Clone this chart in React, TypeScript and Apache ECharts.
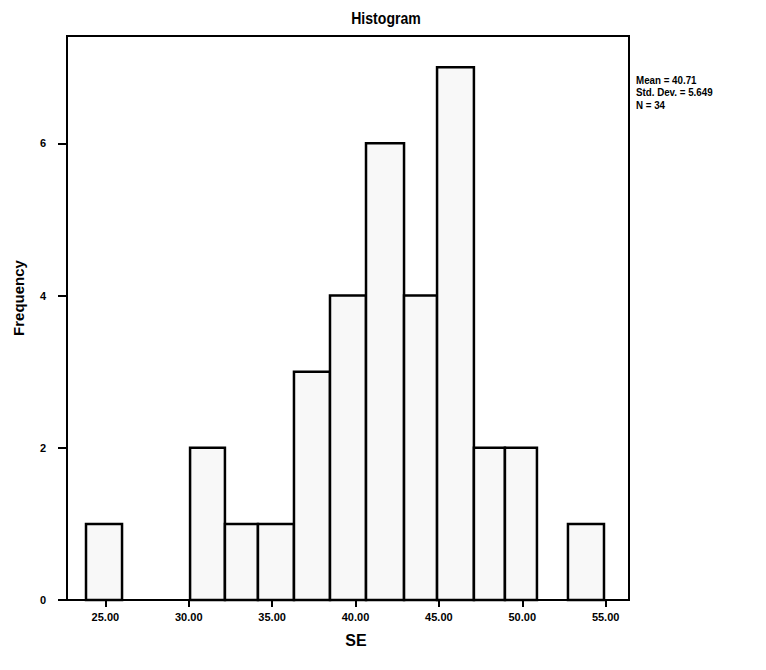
import React, { useEffect, useRef } from "react";
import * as echarts from "echarts";

const binEdges = [23.84, 26.0, 28.04, 30.08, 32.17, 34.15, 36.31, 38.47, 40.63, 42.91, 44.89, 47.1, 48.96, 50.88, 52.74, 54.9];
const counts = [1, 0, 0, 2, 1, 1, 3, 4, 6, 4, 7, 2, 2, 0, 1];
const xTicks = [25, 30, 35, 40, 45, 50, 55];
const yTicks = [0, 2, 4, 6];
const statLines = ["Mean = 40.71", "Std. Dev. = 5.649", "N = 34"];

export default function App() {
  const ref = useRef<HTMLDivElement>(null);
  useEffect(() => {
    if (!ref.current) return;
    const chart = echarts.init(ref.current, null, { renderer: "svg" });
    const data = counts.map((c, i) => [binEdges[i], binEdges[i + 1], c]);
    const font = "Arial, 'Liberation Sans', sans-serif";
    chart.setOption({
      animation: false,
      backgroundColor: "#ffffff",
      grid: {
        left: 67,
        right: 137,
        top: 36,
        bottom: 70,
        show: true,
        borderColor: "#000",
        borderWidth: 2,
        backgroundColor: "transparent",
      },
      xAxis: {
        type: "value",
        min: 22.7,
        max: 56.4,
        axisLine: { show: true, lineStyle: { color: "#000", width: 2 } },
        axisTick: { show: true, length: 7, customValues: xTicks, lineStyle: { color: "#000", width: 2 } },
        axisLabel: {
          customValues: xTicks,
          formatter: (v: number) => v.toFixed(2),
          fontFamily: font,
          fontSize: 11,
          fontWeight: "bold",
          color: "#000",
          margin: 11,
        },
        splitLine: { show: false },
      },
      yAxis: {
        type: "value",
        min: 0,
        max: 7.41,
        axisLine: { show: true, lineStyle: { color: "#000", width: 2 } },
        axisTick: { show: true, length: 9, customValues: yTicks, lineStyle: { color: "#000", width: 2 } },
        axisLabel: {
          customValues: yTicks,
          fontFamily: font,
          fontSize: 11,
          fontWeight: "bold",
          color: "#000",
          margin: 21,
        },
        splitLine: { show: false },
      },
      graphic: [
        {
          type: "text",
          x: 386,
          y: 18,
          scaleX: 0.88,
          style: {
            text: "Histogram",
            fontFamily: font,
            fontSize: 16,
            fontWeight: "bold",
            textAlign: "center",
            textVerticalAlign: "middle",
            fill: "#000",
          },
        },
        {
          type: "text",
          x: 18,
          y: 298,
          rotation: Math.PI / 2,
          style: {
            text: "Frequency",
            fontFamily: font,
            fontSize: 15,
            fontWeight: "bold",
            textAlign: "center",
            textVerticalAlign: "middle",
            fill: "#000",
          },
        },
        {
          type: "text",
          x: 356,
          y: 640,
          style: {
            text: "SE",
            fontFamily: font,
            fontSize: 16,
            fontWeight: "bold",
            textAlign: "center",
            textVerticalAlign: "middle",
            fill: "#000",
          },
        },
        {
          type: "text",
          x: 636,
          y: 73,
          scaleX: 0.85,
          style: {
            text: statLines.join("\n"),
            fontFamily: font,
            fontSize: 11.5,
            fontWeight: "bold",
            lineHeight: 12.5,
            fill: "#000",
          },
        },
      ],
      series: [
        {
          type: "custom",
          data,
          renderItem: (params: any, api: any) => {
            const c = api.value(2);
            if (!c) return null;
            const p0 = api.coord([api.value(0), c]);
            const p1 = api.coord([api.value(1), 0]);
            return {
              type: "rect",
              shape: { x: p0[0], y: p0[1], width: p1[0] - p0[0], height: p1[1] - p0[1] },
              style: { fill: "#f8f8f8", stroke: "#000", lineWidth: 2.5 },
            };
          },
        },
      ],
    });
    return () => chart.dispose();
  }, []);
  return (
    <div
      ref={ref}
      style={{ position: "fixed", left: 0, top: 0, width: 766, height: 670 }}
    />
  );
}
